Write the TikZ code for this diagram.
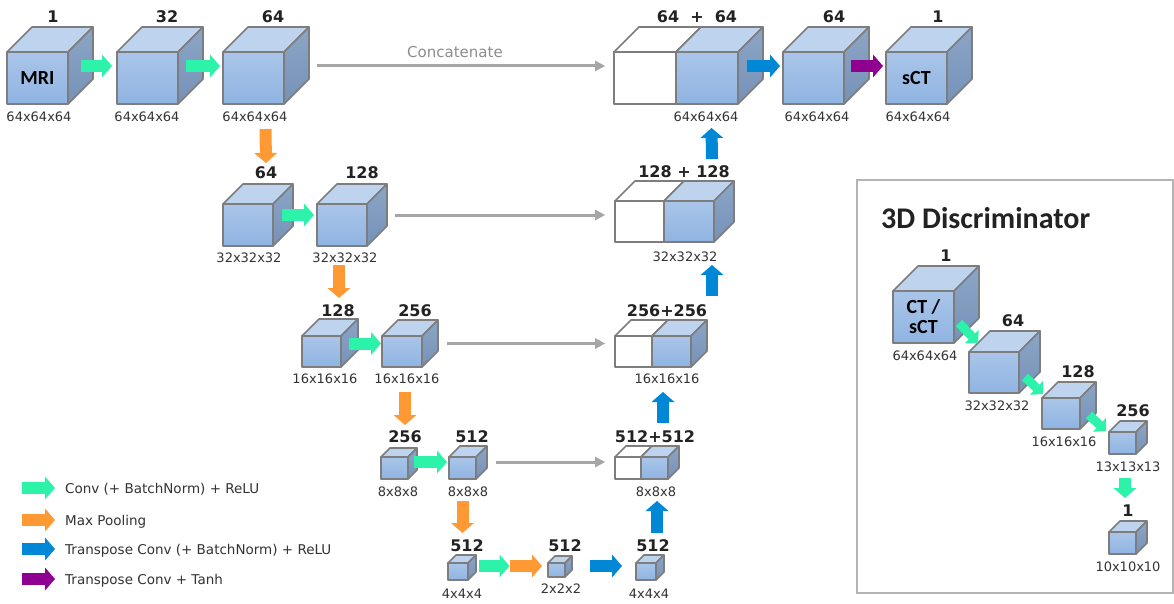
\documentclass[tikz,border=0pt]{standalone}
\usepackage{fontspec}
\setmainfont{DejaVu Sans}
\newfontfamily\carl{Carlito}
\usetikzlibrary{arrows.meta}
\definecolor{cgreen}{RGB}{44,242,170}
\definecolor{corange}{RGB}{255,153,51}
\definecolor{cblue}{RGB}{0,136,214}
\definecolor{cpurple}{RGB}{144,0,144}
\definecolor{cskip}{RGB}{166,166,166}
\definecolor{cedge}{RGB}{125,125,125}
\definecolor{fronta}{RGB}{170,197,232}
\definecolor{frontb}{RGB}{143,180,226}
\definecolor{topc}{RGB}{190,212,238}
\definecolor{sidea}{RGB}{140,165,198}
\definecolor{sideb}{RGB}{118,146,184}
\definecolor{numc}{RGB}{34,34,34}
\definecolor{dimc}{RGB}{51,51,51}
\definecolor{boxc}{RGB}{180,180,180}
\newcommand\cube[8]{%
  \path[edge,#1top] (#3,#4) -- ++(#7,-#7) -- ++(#5,0) -- ++(-#7,#7) -- cycle;
  \path[edge,#1side] (#3+#5,#4) -- ++(#7,-#7) -- ++(0,#6) -- ++(-#7,#7) -- cycle;
  \node[edge,#1front,minimum width=#5pt,minimum height=#6pt,anchor=north west,inner sep=0pt,outer sep=0pt] (#2) at (#3,#4) {#8};
}
\begin{document}
\begin{tikzpicture}[x=1pt,y=-1pt,
  edge/.style={draw=cedge,line width=1.6pt,line join=round},
  btop/.style={fill=topc},
  bside/.style={top color=sidea,bottom color=sideb},
  bfront/.style={top color=fronta,bottom color=frontb},
  wtop/.style={fill=white},
  wside/.style={fill=white},
  wfront/.style={fill=white},
  blk/.style={line width=12pt,-{Triangle[length=10pt,width=23pt,line width=0pt]}},
  blks/.style={line width=9pt,-{Triangle[length=9pt,width=19pt,line width=0pt]}},
  conv/.style={blk,draw=cgreen},
  convs/.style={blks,draw=cgreen},
  pool/.style={blk,draw=corange},
  tconv/.style={blk,draw=cblue},
  tanh/.style={blk,draw=cpurple},
  skip/.style={draw=cskip,line width=3pt,-{Triangle[length=10pt,width=11pt,line width=0pt]}},
  num/.style={font=\fontsize{16}{16}\selectfont\bfseries,text=numc,inner sep=0pt},
  dim/.style={font=\fontsize{13}{13}\selectfont,text=dimc,inner sep=0pt},
  legend/.style={font=\fontsize{13.5}{13.5}\selectfont,text=dimc,inner sep=0pt},
  ]
\useasboundingbox[fill=white] (0,0) rectangle (1174,604);

% discriminator frame
\node[draw=boxc,line width=1.5pt,minimum width=316pt,minimum height=413pt,anchor=north west,inner sep=0pt,outer sep=0pt] (disc) at (857,180) {};
\node[font=\carl\bfseries\fontsize{30}{30}\selectfont,text=numc,anchor=west,inner sep=0pt] (dtitle) at (881,218) {3D Discriminator};

% row 1
\cube{b}{e1}{7}{52}{61}{52}{25}{\textcolor{black}{\carl\bfseries\fontsize{20}{20}\selectfont MRI}}
\cube{b}{e2}{117}{52}{61}{52}{25}{}
\cube{b}{e3}{223}{52}{61}{52}{25}{}
\cube{w}{cw1}{614}{52}{62}{52}{25}{}
\cube{b}{cb1}{676}{52}{62}{52}{25}{}
\cube{b}{d1}{783}{52}{61}{52}{25}{}
\cube{b}{out}{886}{52}{61}{52}{25}{\textcolor{black}{\carl\bfseries\fontsize{20}{20}\selectfont sCT}}
% row 2
\cube{b}{e4}{223}{204}{50}{42}{20}{}
\cube{b}{e5}{317}{204}{50}{42}{20}{}
\cube{w}{cw2}{615}{201}{49}{41}{20}{}
\cube{b}{cb2}{664}{201}{50}{41}{20}{}
% row 3
\cube{b}{e6}{302}{336}{39}{31}{17}{}
\cube{b}{e7}{382}{336}{40}{31}{16}{}
\cube{w}{cw3}{615}{336}{37}{31}{16}{}
\cube{b}{cb3}{652}{336}{39}{31}{16}{}
% row 4
\cube{b}{e8}{381}{457}{27}{22}{9}{}
\cube{b}{e9}{449}{457}{27}{22}{11}{}
\cube{w}{cw4}{615}{457}{26}{22}{11}{}
\cube{b}{cb4}{641}{457}{27}{22}{11}{}
% row 5
\cube{b}{b1}{448}{563}{20}{17}{8}{}
\cube{b}{b2}{548}{563}{17}{14}{7}{}
\cube{b}{b3}{636}{563}{20}{17}{8}{}
% discriminator cubes
\cube{b}{D1}{893}{291}{61}{52}{25}{\parbox{40pt}{\centering\color{black}\carl\bfseries\fontsize{20}{20}\selectfont CT /\\ sCT}}
\cube{b}{D2}{969}{352}{50}{41}{21}{}
\cube{b}{D3}{1042}{398}{38}{31}{16}{}
\cube{b}{D4}{1109}{432}{27}{22}{11}{}
\cube{b}{D5}{1109}{532}{27}{22}{11}{}

% channel labels
\node[num] (t1) at (53,17) {1};
\node[num] (t2) at (167,17) {32};
\node[num] (t3) at (273,17) {64};
\node[num] (t4) at (697,17) {64~~+~~64};
\node[num] (t5) at (834,17) {64};
\node[num] (t6) at (938,17) {1};
\node[num] (t7) at (266,173) {64};
\node[num] (t8) at (362,173) {128};
\node[num] (t9) at (684,172) {128 + 128};
\node[num] (t10) at (338,311) {128};
\node[num] (t11) at (415,311) {256};
\node[num] (t12) at (667,311) {256+256};
\node[num] (t13) at (405,437) {256};
\node[num] (t14) at (472,437) {512};
\node[num] (t15) at (655,437) {512+512};
\node[num] (t16) at (467,546) {512};
\node[num] (t17) at (565,546) {512};
\node[num] (t18) at (653,546) {512};
\node[num] (t19) at (946,256) {1};
\node[num] (t20) at (1013,321) {64};
\node[num] (t21) at (1078,372) {128};
\node[num] (t22) at (1133,411) {256};
\node[num] (t23) at (1128,511) {1};

% size labels
\node[dim] (s1) at (39,117) {64x64x64};
\node[dim] (s2) at (147,117) {64x64x64};
\node[dim] (s3) at (255,117) {64x64x64};
\node[dim] (s4) at (706,117) {64x64x64};
\node[dim] (s5) at (817,117) {64x64x64};
\node[dim] (s6) at (918,117) {64x64x64};
\node[dim] (s7) at (249,258) {32x32x32};
\node[dim] (s8) at (345,258) {32x32x32};
\node[dim] (s9) at (685,257) {32x32x32};
\node[dim] (s10) at (325,379) {16x16x16};
\node[dim] (s11) at (407,379) {16x16x16};
\node[dim] (s12) at (667,379) {16x16x16};
\node[dim] (s13) at (398,492) {8x8x8};
\node[dim] (s14) at (468,492) {8x8x8};
\node[dim] (s15) at (656,492) {8x8x8};
\node[dim] (s16) at (462,594) {4x4x4};
\node[dim] (s17) at (561,589) {2x2x2};
\node[dim] (s18) at (649,594) {4x4x4};
\node[dim] (s19) at (925,356) {64x64x64};
\node[dim] (s20) at (997,406) {32x32x32};
\node[dim] (s21) at (1064,442) {16x16x16};
\node[dim] (s22) at (1128,467) {13x13x13};
\node[dim] (s23) at (1128,567) {10x10x10};

\node[font=\fontsize{15}{15}\selectfont,text=cskip!85!black,inner sep=0pt] (cat) at (455,52) {Concatenate};

% arrows generator
\draw[conv] ([shift={(13,-12)}]e1.east) -- ([shift={(-5,-12)}]e2.west);
\draw[conv] ([shift={(8,-12)}]e2.east) -- ([shift={(-3,-12)}]e3.west);
\draw[skip] ([shift={(33,-12)}]e3.east) -- ([shift={(-9,-12)}]cw1.west);
\draw[tconv] ([shift={(9,-12)}]cb1.east) -- ([shift={(-3,-12)}]d1.west);
\draw[tanh] ([shift={(7,-12)}]d1.east) -- ([shift={(-3,-12)}]out.west);
\draw[pool] ([shift={(12,25)}]e3.south) -- ([shift={(18,-41)}]e4.north);
\draw[conv] ([shift={(9,-10)}]e4.east) -- ([shift={(-3,-10)}]e5.west);
\draw[skip] ([shift={(28,-10)}]e5.east) -- ([shift={(-10,-6.5)}]cw2.west);
\draw[pool] ([shift={(-3,19)}]e5.south) -- ([shift={(17.5,-38)}]e6.north);
\draw[conv] ([shift={(8,-8)}]e6.east) -- ([shift={(-1,-8)}]e7.west);
\draw[skip] ([shift={(25,-8)}]e7.east) -- ([shift={(-10,-8)}]cw3.west);
\draw[pool] ([shift={(3,25)}]e7.south) -- ([shift={(10.5,-32)}]e8.north);
\draw[conv] ([shift={(6,-6)}]e8.east) -- ([shift={(-2,-6)}]e9.west);
\draw[skip] ([shift={(20,-6)}]e9.east) -- ([shift={(-10,-6)}]cw4.west);
\draw[pool] ([shift={(0,22)}]e9.south) -- ([shift={(4.5,-30)}]b1.north);
\coordinate (m5) at (509.5,566);
\draw[conv] ([shift={(11,-5.5)}]b1.east) -- (m5);
\draw[pool] (m5) -- ([shift={(-6,-4)}]b2.west);
\draw[tconv] ([shift={(25,-4)}]b2.east) -- ([shift={(-14,-5.5)}]b3.west);
\draw[tconv] ([shift={(11,-30)}]b3.north) -- ([shift={(2.5,22)}]cb4.south);
\draw[tconv] ([shift={(8.5,-34)}]cb4.north) -- ([shift={(-8.5,25)}]cb3.south);
\draw[tconv] ([shift={(40.5,-40)}]cb3.north) -- ([shift={(23,23)}]cb2.south);
\draw[tconv] ([shift={(23,-42)}]cb2.north) -- ([shift={(4.5,24)}]cb1.south);

% discriminator arrows
\draw[convs] ([shift={(5,-20)}]D1.south east) -- ([shift={(9,-9)}]D2.north west);
\draw[convs] ([shift={(6,-16)}]D2.south east) -- ([shift={(1,-4)}]D3.north west);
\draw[convs] ([shift={(9,-14)}]D3.south east) -- ([shift={(-3,-1)}]D4.north west);
\draw[conv] ([shift={(2.5,24)}]D4.south) -- ([shift={(2.5,-34)}]D5.north);

% legend
\node[legend,anchor=base west] (lg1) at (65,493) {Conv (+ BatchNorm) + ReLU};
\node[legend,anchor=base west] (lg2) at (65,525) {Max Pooling};
\node[legend,anchor=base west] (lg3) at (65,554) {Transpose Conv (+ BatchNorm) + ReLU};
\node[legend,anchor=base west] (lg4) at (65,584) {Transpose Conv + Tanh};
\draw[conv] ([shift={(-43,-5)}]lg1.base west) -- ([shift={(-10,-5)}]lg1.base west);
\draw[pool] ([shift={(-43,-5)}]lg2.base west) -- ([shift={(-10,-5)}]lg2.base west);
\draw[tconv] ([shift={(-43,-5)}]lg3.base west) -- ([shift={(-10,-5)}]lg3.base west);
\draw[tanh] ([shift={(-43,-5)}]lg4.base west) -- ([shift={(-10,-5)}]lg4.base west);
\end{tikzpicture}
\end{document}
